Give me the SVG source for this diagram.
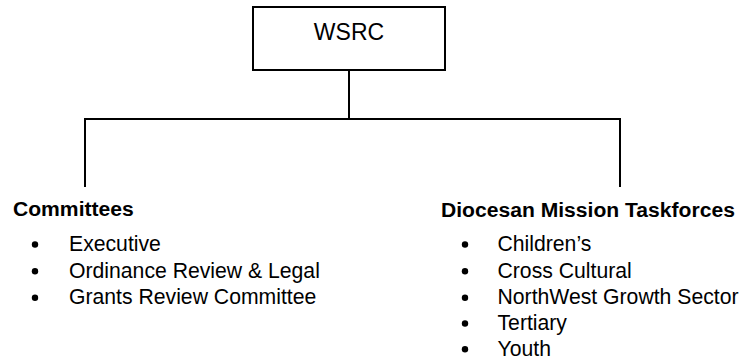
<svg xmlns="http://www.w3.org/2000/svg" width="740" height="360" viewBox="0 0 740 360">
<style>
.ln{stroke:#000;stroke-width:2;fill:none}
.box{fill:#fff;stroke:#000;stroke-width:2}
.t{font-family:"Liberation Sans",Arial,sans-serif;fill:#000}
.h{font-size:21.1px;font-weight:bold}
.i{font-size:21.2px}
</style>
<rect width="740" height="360" fill="#fff"/>
<g id="connectors">
<path class="ln" d="M349,70 V119 M84,119 H621 M85,118 V187 M620,118 V187"/>
</g>
<g id="wsrc">
<rect class="box" x="253" y="7" width="192" height="63"/>
<text class="t" x="349" y="40" font-size="23" text-anchor="middle">WSRC</text>
</g>
<g id="committees">
<text class="t h" x="13" y="216">Committees</text>
<g class="t i">
<circle cx="35" cy="244.5" r="3.2"/><text x="69" y="251">Executive</text>
<circle cx="35" cy="271.2" r="3.2"/><text x="69" y="277.7">Ordinance Review &amp; Legal</text>
<circle cx="35" cy="297.8" r="3.2"/><text x="69" y="304.3">Grants Review Committee</text>
</g>
</g>
<g id="taskforces">
<text class="t h" x="441" y="216.5">Diocesan Mission Taskforces</text>
<g class="t i">
<circle cx="465" cy="244.5" r="3.2"/><text x="497.5" y="251">Children’s</text>
<circle cx="465" cy="271.2" r="3.2"/><text x="497.5" y="277.7">Cross Cultural</text>
<circle cx="465" cy="297.8" r="3.2"/><text x="497.5" y="304.3">NorthWest Growth Sector</text>
<circle cx="465" cy="323.5" r="3.2"/><text x="497.5" y="330">Tertiary</text>
<circle cx="465" cy="349.2" r="3.2"/><text x="497.5" y="355.7">Youth</text>
</g>
</g>
</svg>
